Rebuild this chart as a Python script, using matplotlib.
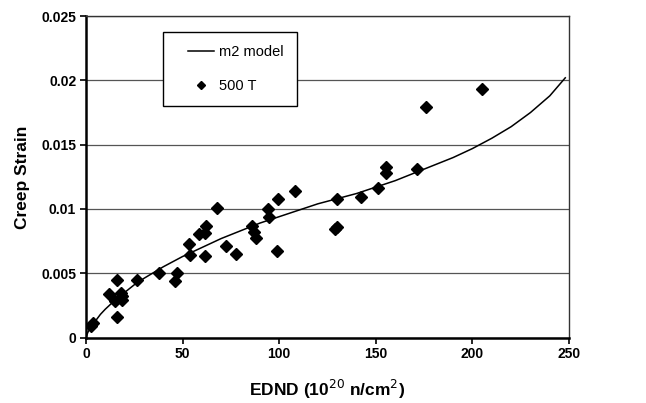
import matplotlib
matplotlib.use("Agg")
import matplotlib.pyplot as plt
from matplotlib.legend_handler import HandlerLine2D

# m2 model curve
model_ednd = [0, 1, 3, 5, 7.5, 10, 15, 20, 25, 30, 35, 40, 45, 50, 60, 70, 80,
              90, 100, 110, 120, 130, 140, 150, 160, 170, 180, 190, 200, 210,
              220, 230, 240, 248]
model_strain = [0.0, 0.0004, 0.0009, 0.0013, 0.0018, 0.0022, 0.0029, 0.0035,
                0.0041, 0.0046, 0.00505, 0.0055, 0.0059, 0.0063, 0.0070,
                0.0077, 0.0083, 0.0089, 0.0094, 0.0099, 0.0104, 0.0108,
                0.0112, 0.0117, 0.0122, 0.0128, 0.0134, 0.0140, 0.0147,
                0.0155, 0.0164, 0.0175, 0.0188, 0.0202]

# 500 T measurements
ednd_500t = [2.8, 3.8, 12.0, 15.3, 16.3, 16.3, 18.1, 18.9, 18.6, 26.2, 38.0,
             46.0, 46.9, 53.1, 54.1, 58.4, 61.7, 62.1, 61.7, 67.6, 72.5, 77.6,
             86.0, 87.1, 87.9, 94.2, 94.9, 99.5, 98.8, 108.0, 129.9, 128.7,
             129.7, 142.5, 151.2, 155.5, 155.5, 171.3, 176.2, 204.7]
strain_500t = [0.00091, 0.00109, 0.00338, 0.00286, 0.00447, 0.00156, 0.00343,
               0.00325, 0.00294, 0.00447, 0.00499, 0.00436, 0.00504, 0.00727,
               0.00644, 0.00805, 0.0081, 0.0087, 0.00636, 0.01008, 0.00714,
               0.00649, 0.0087, 0.00818, 0.00774, 0.0100, 0.00935, 0.01078,
               0.0067, 0.0114, 0.01078, 0.00845, 0.00858, 0.0109, 0.0116,
               0.01329, 0.01277, 0.0131, 0.0179, 0.0193]

x_ticks = [0, 50, 100, 150, 200, 250]
y_ticks = [0, 0.005, 0.01, 0.015, 0.02, 0.025]
y_tick_labels = ["0", "0.005", "0.01", "0.015", "0.02", "0.025"]

plt.rcParams["font.family"] = ["Liberation Sans", "DejaVu Sans"]

fig = plt.figure(figsize=(6.46, 4.03), dpi=100)
ax = fig.add_axes([0.133, 0.1625, 0.748, 0.7975])

model_line, = ax.plot(model_ednd, model_strain, color="black", linewidth=1.1,
                      label="m2 model", zorder=3)
points, = ax.plot(ednd_500t, strain_500t, linestyle="none", marker="D",
                  markersize=6, color="black", label="500 T", zorder=4)

ax.set_xlim(0, 250)
ax.set_ylim(0, 0.025)
ax.set_xticks(x_ticks)
ax.set_yticks(y_ticks)
ax.set_yticklabels(y_tick_labels)
ax.yaxis.grid(True, color="#555555", linewidth=0.9)
ax.set_axisbelow(True)

for lbl in ax.get_xticklabels() + ax.get_yticklabels():
    lbl.set_fontweight("bold")
    lbl.set_fontsize(10)
ax.tick_params(direction="out", length=4, width=1.2, pad=3)

ax.spines["left"].set_linewidth(1.8)
ax.spines["bottom"].set_linewidth(1.8)
ax.spines["top"].set_linewidth(1.0)
ax.spines["right"].set_linewidth(1.0)
ax.spines["top"].set_color("#333333")
ax.spines["right"].set_color("#333333")

ax.set_xlabel("EDND (10$^{20}$ n/cm$^{2}$)", fontsize=12.5, fontweight="bold", labelpad=12)
ax.set_ylabel("Creep Strain", fontsize=12.5, fontweight="bold", labelpad=8)

leg = ax.legend(handles=[model_line, points], loc="upper left",
                bbox_to_anchor=(0.159, 0.95), fontsize=10.5,
                frameon=True, fancybox=False, edgecolor="black",
                borderpad=0.9, labelspacing=1.35, handlelength=2.6,
                handletextpad=0.35, borderaxespad=0, framealpha=1,
                markerscale=0.75,
                handler_map={model_line: HandlerLine2D(xpad=0.8),
                             points: HandlerLine2D(xpad=0.8)})
leg.get_frame().set_linewidth(1.0)

fig.savefig("out.png", dpi=100)
